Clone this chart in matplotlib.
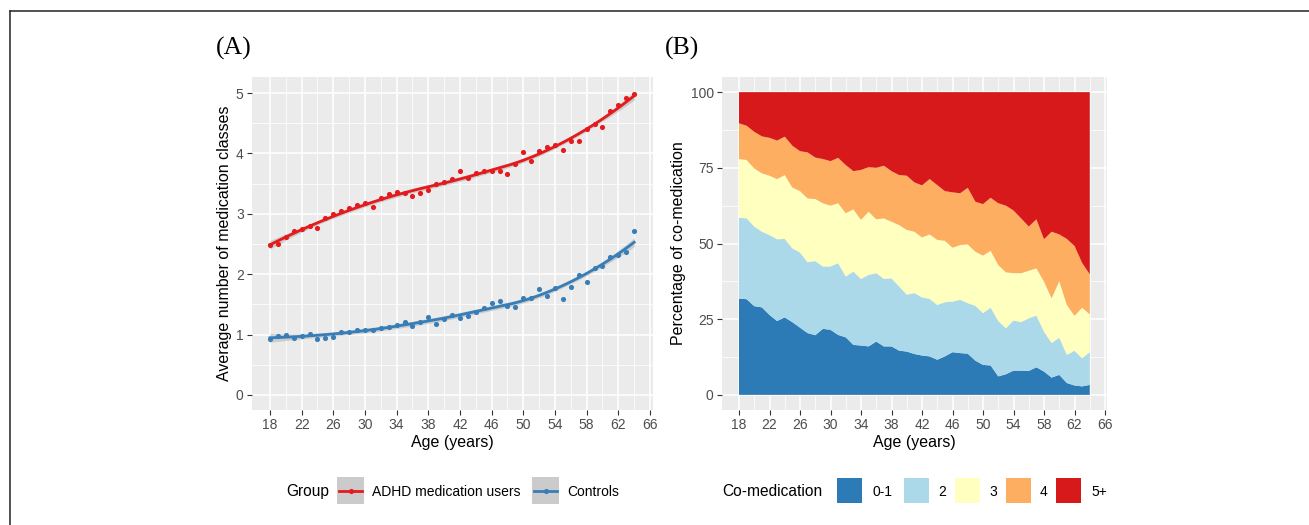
import numpy as np
import matplotlib
matplotlib.use("Agg")
import matplotlib.pyplot as plt
from matplotlib.patches import Rectangle
from matplotlib.lines import Line2D

# ---------------- data ----------------
ages = list(range(18, 65))

adhd_mean = [2.48, 2.50, 2.62, 2.71, 2.75, 2.80, 2.77, 2.93, 2.99, 3.05,
             3.09, 3.15, 3.18, 3.12, 3.26, 3.33, 3.36, 3.35, 3.29, 3.34,
             3.39, 3.49, 3.53, 3.58, 3.71, 3.59, 3.67, 3.71, 3.70, 3.70,
             3.66, 3.82, 4.02, 3.88, 4.04, 4.11, 4.14, 4.05, 4.21, 4.21,
             4.41, 4.48, 4.43, 4.71, 4.80, 4.92, 4.98]

ctrl_mean = [0.93, 0.98, 1.00, 0.94, 0.97, 1.01, 0.93, 0.95, 0.96, 1.05,
             1.04, 1.07, 1.08, 1.08, 1.10, 1.13, 1.16, 1.21, 1.14, 1.20,
             1.29, 1.17, 1.25, 1.33, 1.27, 1.31, 1.38, 1.44, 1.52, 1.55,
             1.48, 1.45, 1.61, 1.60, 1.76, 1.63, 1.77, 1.59, 1.78, 1.98,
             1.87, 2.10, 2.13, 2.28, 2.32, 2.37, 2.72]

group_labels = ["ADHD medication users", "Controls"]

comed_labels = ["0-1", "2", "3", "4", "5+"]
pct_01 = [31.8, 31.6, 29.3, 28.9, 26.4, 24.4, 25.6, 24.0, 22.2, 20.4,
          19.7, 21.8, 21.5, 19.8, 19.0, 16.5, 16.3, 16.0, 17.6, 16.0,
          16.0, 14.6, 14.3, 13.5, 13.0, 12.7, 11.6, 12.7, 14.1, 13.8,
          13.6, 11.3, 9.9, 9.7, 6.1, 6.8, 8.0, 8.0, 7.9, 9.1,
          7.7, 5.7, 6.6, 3.9, 3.1, 2.8, 3.3]
pct_2 = [26.7, 26.7, 26.3, 25.0, 26.4, 27.0, 25.9, 24.4, 24.8, 23.4,
         24.5, 20.6, 20.9, 23.7, 20.1, 24.2, 22.0, 23.6, 22.6, 22.3,
         22.5, 21.2, 18.8, 20.1, 19.2, 19.0, 18.1, 17.9, 16.7, 17.6,
         16.7, 18.1, 17.1, 19.1, 18.3, 15.2, 16.6, 16.0, 17.4, 17.1,
         13.2, 11.4, 12.3, 9.3, 11.5, 9.3, 10.8]
pct_3 = [19.4, 19.3, 19.2, 19.3, 19.6, 19.9, 21.1, 20.1, 20.3, 21.1,
         20.5, 20.9, 20.1, 19.8, 20.9, 20.6, 19.5, 20.9, 17.8, 20.0,
         18.7, 20.3, 21.4, 20.3, 19.8, 21.3, 21.5, 20.3, 17.8, 18.1,
         19.4, 17.9, 19.0, 18.8, 18.5, 18.5, 15.6, 16.2, 15.7, 15.6,
         16.5, 14.8, 18.7, 16.5, 11.5, 16.7, 12.5]
pct_4 = [11.8, 11.3, 12.1, 12.2, 12.5, 12.7, 12.7, 13.8, 13.2, 15.2,
         13.7, 14.6, 14.7, 15.0, 15.9, 12.6, 16.5, 14.7, 17.0, 17.4,
         16.7, 16.5, 17.9, 16.3, 17.2, 18.3, 18.1, 16.4, 18.3, 17.1,
         18.7, 16.5, 17.0, 17.5, 20.4, 22.0, 20.7, 18.1, 14.6, 16.2,
         14.0, 22.0, 15.4, 21.8, 23.1, 14.8, 13.2]
pct_5p = [10.3, 11.1, 13.1, 14.6, 15.1, 16.0, 14.7, 17.7, 19.5, 19.9,
          21.6, 22.1, 22.8, 21.7, 24.1, 26.1, 25.7, 24.8, 25.0, 24.3,
          26.1, 27.4, 27.6, 29.8, 30.8, 28.7, 30.7, 32.7, 33.1, 33.4,
          31.6, 36.2, 37.0, 34.9, 36.7, 37.5, 39.1, 41.7, 44.4, 42.0,
          48.6, 46.1, 47.0, 48.5, 50.8, 56.4, 60.2]

x_breaks = list(range(18, 67, 4))

# ---------------- style ----------------
W, H = 1309, 525
FONT = "Liberation Sans"
plt.rcParams["font.family"] = [FONT, "DejaVu Sans"]

RED = "#E41A1C"
BLUE = "#377EB8"
AREA_COLORS = ["#2C7BB6", "#ABD9E9", "#FFFFBF", "#FDAE61", "#D7191C"]
PANEL_BG = "#EBEBEB"
TICK_FS = 10
TITLE_FS = 11.5
LEG_FS = 10
LEG_TITLE_FS = 11.2


def loess(x, y, xs, span=0.75):
    x = np.asarray(x, float)
    y = np.asarray(y, float)
    n = len(x)
    q = int(np.floor(span * n))

    def lrow(x0):
        d = np.abs(x - x0)
        h = np.sort(d)[q - 1]
        w = np.clip(1 - (d / h) ** 3, 0, None) ** 3
        X = np.column_stack([np.ones(n), x - x0, (x - x0) ** 2])
        XtW = X.T * w
        return np.linalg.solve(XtW @ X, XtW)[0]

    L = np.array([lrow(v) for v in x])
    resid = y - L @ y
    M = (np.eye(n) - L).T @ (np.eye(n) - L)
    d1 = np.trace(M)
    sigma = np.sqrt(resid @ resid / d1)
    Ls = np.array([lrow(v) for v in xs])
    fit = Ls @ y
    se = sigma * np.sqrt((Ls ** 2).sum(1))
    t = 2.02
    return fit, fit - t * se, fit + t * se


def style_axes(ax):
    ax.set_facecolor(PANEL_BG)
    for s in ax.spines.values():
        s.set_visible(False)
    ax.grid(True, which="major", color="white", lw=1.1)
    ax.grid(True, which="minor", color="white", lw=0.55)
    ax.set_axisbelow(True)
    ax.tick_params(which="major", length=3.5, width=0.8, color="#333333",
                   labelsize=TICK_FS, labelcolor="#4D4D4D", pad=2.5)
    ax.tick_params(which="minor", length=0)
    ax.set_xticks(x_breaks)
    ax.set_xticks([b + 2 for b in x_breaks[:-1]], minor=True)


fig = plt.figure(figsize=(W / 100, H / 100), dpi=100)


def fx(px):
    return px / W


def fy(py):
    return 1 - py / H


# ---------------- panel A ----------------
axA = fig.add_axes([fx(252), fy(410), fx(653) - fx(252), fy(77) - fy(410)])
style_axes(axA)
xs = np.linspace(18, 64, 120)
for vals, col in [(adhd_mean, RED), (ctrl_mean, BLUE)]:
    fit, lo, hi = loess(ages, vals, xs)
    axA.fill_between(xs, lo, hi, color="#999999", alpha=0.4, lw=0, zorder=2)
    axA.plot(xs, fit, color=col, lw=2.0, zorder=3)
    axA.plot(ages, vals, "o", color=col, ms=3.7, mew=0, zorder=4)
axA.set_xlim(15.73, 66.38)
axA.set_ylim(-0.25, 5.265)
axA.set_yticks(range(0, 6))
axA.set_yticks([v + 0.5 for v in range(0, 5)], minor=True)
axA.set_xlabel("Age (years)", fontsize=TITLE_FS)
axA.set_ylabel("Average number of medication classes", fontsize=TITLE_FS)
axA.xaxis.set_label_coords(0.5, (410 - 443) / 333)
axA.xaxis.label.set_va("center")
axA.yaxis.set_label_coords((225 - 252) / 401, 0.5)
axA.yaxis.label.set_va("center")

# ---------------- panel B ----------------
axB = fig.add_axes([fx(722), fy(410), fx(1107) - fx(722), fy(77) - fy(410)])
style_axes(axB)
axB.stackplot(ages, pct_01, pct_2, pct_3, pct_4, pct_5p,
              colors=AREA_COLORS, lw=0, zorder=2)
axB.set_xlim(15.77, 66.26)
axB.set_ylim(-5, 105)
axB.set_yticks([0, 25, 50, 75, 100])
axB.set_yticks([12.5, 37.5, 62.5, 87.5], minor=True)
axB.set_xlabel("Age (years)", fontsize=TITLE_FS)
axB.set_ylabel("Percentage of co-medication", fontsize=TITLE_FS)
axB.xaxis.set_label_coords(0.5, (410 - 443) / 333)
axB.xaxis.label.set_va("center")
axB.yaxis.set_label_coords((679 - 722) / 385, 0.5)
axB.yaxis.label.set_va("center")

# ---------------- panel tags ----------------
fig.text(fx(216), fy(48), "(A)", family="Liberation Serif", fontsize=18.5,
         va="center", ha="left")
fig.text(fx(665), fy(48), "(B)", family="Liberation Serif", fontsize=18.5,
         va="center", ha="left")

# ---------------- legends ----------------
ky0, ky1 = 477, 504
kyc = (ky0 + ky1) / 2 + 1
fig.text(fx(286), fy(kyc), "Group", fontsize=LEG_TITLE_FS, va="center", ha="left")
for (kx, tx), lab, col in zip([(337, 372), (532, 567)], group_labels, [RED, BLUE]):
    fig.add_artist(Rectangle((fx(kx), fy(ky1)), fx(27), fy(ky0) - fy(ky1),
                             transform=fig.transFigure, facecolor="#CBCBCB",
                             edgecolor="none"))
    fig.add_artist(Line2D([fx(kx + 2), fx(kx + 25)], [fy(kyc - 1), fy(kyc - 1)],
                          transform=fig.transFigure, color=col, lw=2.0))
    fig.add_artist(Line2D([fx(kx + 13.5)], [fy(kyc - 1)], transform=fig.transFigure,
                          marker="o", color=col, ms=3.7, mew=0))
    fig.text(fx(tx), fy(kyc), lab, fontsize=LEG_FS, va="center", ha="left")

fig.text(fx(722), fy(kyc), "Co-medication", fontsize=LEG_TITLE_FS, va="center", ha="left")
for kx, tx, lab, col in zip([837, 904, 955, 1006, 1056], [872, 938, 989, 1040, 1091],
                            comed_labels, AREA_COLORS):
    fig.add_artist(Rectangle((fx(kx), fy(503)), fx(25), fy(478) - fy(503),
                             transform=fig.transFigure, facecolor=col,
                             edgecolor="none"))
    fig.text(fx(tx), fy(kyc), lab, fontsize=LEG_FS, va="center", ha="left")

# ---------------- frame lines (top / left) ----------------
fig.add_artist(Line2D([fx(9.5), 1.0], [fy(11), fy(11)], transform=fig.transFigure,
                      color="#222222", lw=1.1))
fig.add_artist(Line2D([fx(9.5), fx(9.5)], [fy(11), 0.0], transform=fig.transFigure,
                      color="#222222", lw=1.1))

fig.savefig("out.png", dpi=100, facecolor="white")
